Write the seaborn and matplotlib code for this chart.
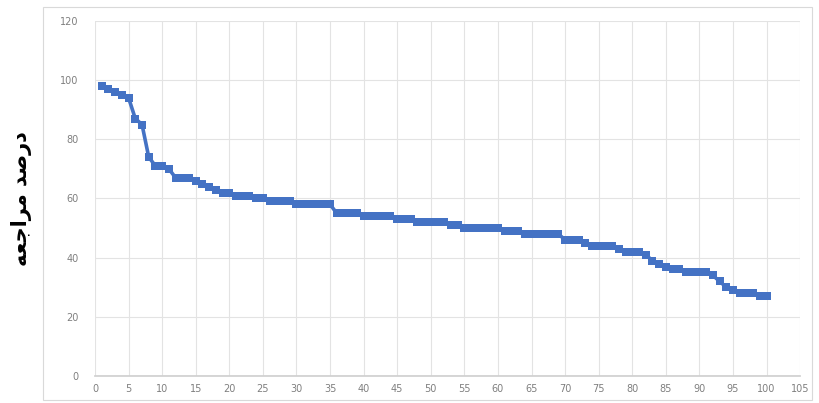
import matplotlib
matplotlib.use("Agg")
import matplotlib.pyplot as plt
import seaborn as sns
import pandas as pd

# rank of the case (1..100) and its referral percent
rank = list(range(1, 101))
percent = [
    98, 97, 96, 95, 94, 87, 85, 74, 71, 71,
    70, 67, 67, 67, 66, 65, 64, 63, 62, 62,
    61, 61, 61, 60, 60, 59, 59, 59, 59, 58,
    58, 58, 58, 58, 58, 55, 55, 55, 55, 54,
    54, 54, 54, 54, 53, 53, 53, 52, 52, 52,
    52, 52, 51, 51, 50, 50, 50, 50, 50, 50,
    49, 49, 49, 48, 48, 48, 48, 48, 48, 46,
    46, 46, 45, 44, 44, 44, 44, 43, 42, 42,
    42, 41, 39, 38, 37, 36, 36, 35, 35, 35,
    35, 34, 32, 30, 29, 28, 28, 28, 27, 27,
]
x_ticks = list(range(0, 106, 5))
y_ticks = list(range(0, 121, 20))

# "درصد مراجعه" - matplotlib does no arabic shaping, so use presentation forms in visual order
y_label = "\ufeea\ufecc\ufe9f\ufe8d\ufeae\ufee3 \ufeaa\ufebb\ufead\ufea9"

df = pd.DataFrame({"rank": rank, "percent": percent})

sns.set_theme(style="white")
plt.rcParams["font.family"] = ["DejaVu Sans"]

fig = plt.figure(figsize=(8.19, 4.03), dpi=100)
# light frame around the whole chart area, like the excel chart
fig.patches.append(plt.Rectangle((0.052, 0.008), 0.94, 0.975, transform=fig.transFigure,
                                 fill=False, edgecolor="#d9d9d9", linewidth=0.8))
ax = fig.add_axes([0.116, 0.067, 0.861, 0.881])

sns.lineplot(data=df, x="rank", y="percent", ax=ax, color="#4472c4", linewidth=2.6,
             marker="s", markersize=5.5, markeredgewidth=0, markerfacecolor="#4472c4")

ax.set_xlim(0, 105)
ax.set_ylim(0, 120)
ax.set_xticks(x_ticks)
ax.set_yticks(y_ticks)
ax.grid(True, color="#e3e3e3", linewidth=0.8)
ax.set_axisbelow(True)
for side in ["top", "right", "left"]:
    ax.spines[side].set_visible(False)
ax.spines["bottom"].set_color("#d0d0d0")
ax.tick_params(axis="both", labelsize=7, colors="#7f7f7f", length=0, pad=6)
ax.tick_params(axis="y", pad=12)
ax.set_xlabel("")
ax.set_ylabel(y_label, fontsize=15, fontweight="bold", color="black", labelpad=20)

fig.savefig("out.png", dpi=100)
